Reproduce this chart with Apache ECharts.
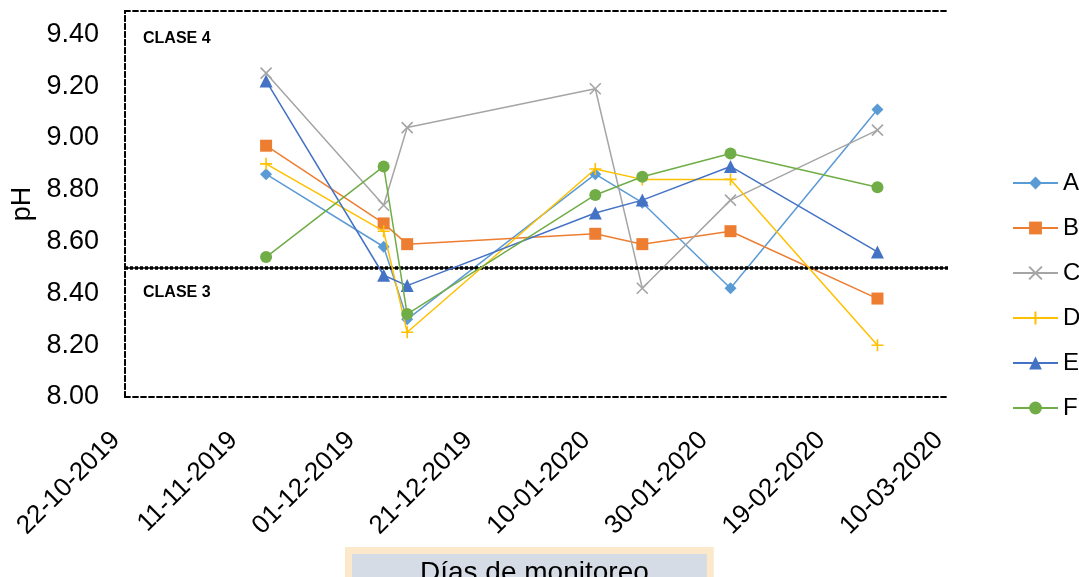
<!DOCTYPE html>
<html>
<head>
<meta charset="utf-8">
<script src="https://cdn.jsdelivr.net/npm/echarts@6/dist/echarts.min.js"></script>
<style>html,body{margin:0;padding:0;background:#fff;}#c{width:1079px;height:577px;}</style>
</head>
<body>
<div id="c"></div>
<script>
// ---- data ----
const startDate = '2019-10-22';
const dates = ['2019-11-15','2019-12-05','2019-12-09','2020-01-10','2020-01-18','2020-02-02','2020-02-27'];
const seriesNames = ['A','B','C','D','E','F'];
const valuesA = [8.86, 8.58, 8.30, 8.86, 8.75, 8.42, 9.11];
const valuesB = [8.97, 8.67, 8.59, 8.63, 8.59, 8.64, 8.38];
const valuesC = [9.25, 8.74, 9.04, 9.19, 8.42, 8.76, 9.03];
const valuesD = [8.90, 8.64, 8.25, 8.88, 8.84, 8.84, 8.20];
const valuesE = [9.22, 8.47, 8.43, 8.71, 8.76, 8.89, 8.56];
const valuesF = [8.54, 8.89, 8.32, 8.78, 8.85, 8.94, 8.81];
const xTickLabels = ['22-10-2019','11-11-2019','01-12-2019','21-12-2019','10-01-2020','30-01-2020','19-02-2020','10-03-2020'];
const yTickLabels = ['8.00','8.20','8.40','8.60','8.80','9.00','9.20','9.40'];
const classThreshold = 8.5;
const xAxisTitle = 'Días de monitoreo';
const yAxisTitle = 'pH';

// ---- build ----
const DAY = 86400000;
const t0 = Date.parse(startDate);
const dayOffset = d => Math.round((Date.parse(d) - t0) / DAY);
const xs = dates.map(dayOffset);

const colors = ['#5B9BD5','#ED7D31','#A5A5A5','#FFC000','#4472C4','#70AD47'];
const symbols = ['diamond','rect','path://M0,0L10,10M10,0L0,10','path://M5,0L5,10M0,5L10,5','triangle','circle'];
const sizes = [12, 12, 11, 12, 13, 12];
const allValues = [valuesA, valuesB, valuesC, valuesD, valuesE, valuesF];
const font = "'Liberation Sans', Arial, sans-serif";

const series = seriesNames.map((name, i) => {
  const isStroke = i === 2 || i === 3;
  const s = {
    name: name,
    type: 'line',
    data: xs.map((x, k) => [x, allValues[i][k]]),
    symbol: symbols[i],
    symbolSize: sizes[i],
    showAllSymbol: true,
    lineStyle: { color: colors[i], width: 1.5 },
    itemStyle: isStroke
      ? { color: colors[i], borderColor: colors[i], borderWidth: 1.6 }
      : { color: colors[i], borderWidth: 0 },
    emphasis: { disabled: true },
    animation: false,
    z: 2 + i
  };
  if (i === 0) {
    s.markLine = {
      silent: true,
      symbol: 'none',
      animation: false,
      label: { show: false },
      data: [
        { yAxis: classThreshold, lineStyle: { color: '#000', width: 1.5, type: 'solid' } },
        { yAxis: classThreshold, lineStyle: { color: '#000', width: 3.5, type: [3, 2] } }
      ]
    };
  }
  return s;
});

const boxLine = { show: true, lineStyle: { color: '#000', width: 1.8, type: [5, 3] } };

const chart = echarts.init(document.getElementById('c'), null, { renderer: 'canvas' });
chart.setOption({
  animation: false,
  backgroundColor: '#fff',
  grid: { left: 125, right: 131, top: 11, bottom: 180, containLabel: false, outerBoundsMode: 'none' },
  xAxis: [{
    type: 'value',
    min: 0, max: 140, interval: 20,
    axisLine: boxLine,
    axisTick: { show: false },
    splitLine: { show: false },
    axisLabel: {
      rotate: 45, margin: 30, fontSize: 26, color: '#000', fontFamily: font,
      padding: [0, 13, 0, 0],
      formatter: v => xTickLabels[Math.round(v / 20)] || ''
    }
  }, {
    type: 'value', position: 'top',
    min: 0, max: 140, interval: 20,
    axisLine: boxLine, axisTick: { show: false }, axisLabel: { show: false }, splitLine: { show: false }
  }],
  yAxis: [{
    type: 'value',
    min: 8, max: 9.49, interval: 0.2,
    axisLine: boxLine,
    axisTick: { show: false },
    splitLine: { show: false },
    axisLabel: {
      margin: 26, fontSize: 27, color: '#000', fontFamily: font, showMaxLabel: false,
      formatter: v => yTickLabels[Math.round((v - 8) / 0.2)] || ''
    },
    name: yAxisTitle,
    nameLocation: 'middle',
    nameGap: 88,
    nameTextStyle: { fontSize: 27, color: '#000', fontFamily: font }
  }, {
    type: 'value', position: 'right',
    min: 8, max: 9.49, interval: 0.2,
    axisLine: boxLine, axisTick: { show: false }, axisLabel: { show: false }, splitLine: { show: false }
  }],
  legend: {
    orient: 'vertical',
    left: 1007, top: 166,
    itemWidth: 45, itemHeight: 16, itemGap: 21,
    textStyle: { fontSize: 24, color: '#000', fontFamily: font },
    data: seriesNames
  },
  graphic: [
    { type: 'text', left: 143, top: 31, style: { text: 'CLASE 4', font: "bold 16px 'Liberation Sans', Arial, sans-serif", fill: '#000' } },
    { type: 'text', left: 143, top: 285, style: { text: 'CLASE 3', font: "bold 16px 'Liberation Sans', Arial, sans-serif", fill: '#000' } },
    { type: 'text', left: 345, top: 547, z: 10,
      style: {
        text: xAxisTitle, font: "28px 'Liberation Sans', Arial, sans-serif", fill: '#000',
        backgroundColor: '#D6DCE5', borderColor: '#FCE9CC', borderWidth: 7,
        padding: [5, 58, 10, 68]
      } }
  ],
  series: series
});
</script>
</body>
</html>
